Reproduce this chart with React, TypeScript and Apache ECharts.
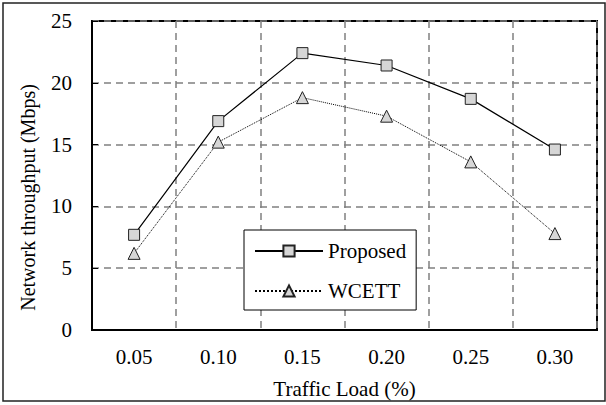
import React, { useEffect, useRef } from "react";
import * as echarts from "echarts";

const categories = ["0.05", "0.10", "0.15", "0.20", "0.25", "0.30"];
const proposed = [7.7, 16.9, 22.4, 21.4, 18.7, 14.6];
const wcett = [6.2, 15.2, 18.8, 17.3, 13.6, 7.8];
const yTicks = { min: 0, max: 25, interval: 5 };

const FONT = "Liberation Serif";

export default function App() {
  const ref = useRef<HTMLDivElement>(null);
  useEffect(() => {
    const chart = echarts.init(ref.current!, null, { renderer: "svg" });
    chart.setOption({
      animation: false,
      backgroundColor: "#fff",
      textStyle: { fontFamily: FONT, color: "#000" },
      grid: {
        left: 92,
        top: 21,
        right: 9,
        bottom: 75,
        show: true,
        borderColor: "#000",
        borderWidth: 2,
        backgroundColor: "transparent",
      },
      graphic: [
        {
          type: "rect",
          shape: { x: 3, y: 3, width: 602, height: 398 },
          style: { fill: "none", stroke: "#222", lineWidth: 1.5 },
          silent: true,
          z: 0,
        },
      ],
      legend: {
        orient: "vertical",
        left: 244,
        top: 230,
        padding: [9, 10, 7, 10],
        itemGap: 16,
        itemWidth: 68,
        itemHeight: 14,
        borderColor: "#000",
        borderWidth: 1,
        backgroundColor: "#fff",
        textStyle: { fontFamily: FONT, fontSize: 21, lineHeight: 24, color: "#000" },
        data: ["Proposed", "WCETT"],
      },
      xAxis: {
        type: "category",
        data: categories,
        boundaryGap: true,
        name: "Traffic Load (%)",
        nameLocation: "middle",
        nameGap: 48,
        nameTextStyle: { fontFamily: FONT, fontSize: 21, color: "#000" },
        axisLine: { lineStyle: { color: "#000", width: 2 } },
        axisTick: { inside: true, length: 6, lineStyle: { color: "#000", width: 1 } },
        axisLabel: { fontFamily: FONT, fontSize: 21, color: "#000", margin: 16 },
        splitLine: { show: true, lineStyle: { color: "#808080", width: 1.5, type: [7, 5] } },
      },
      yAxis: {
        type: "value",
        min: yTicks.min,
        max: yTicks.max,
        interval: yTicks.interval,
        name: "Network throughput (Mbps)",
        nameLocation: "middle",
        nameGap: 54,
        nameTextStyle: { fontFamily: FONT, fontSize: 20, color: "#000", padding: [0, 44, 0, 0] },
        axisLine: { show: true, lineStyle: { color: "#000", width: 2 } },
        axisTick: { show: true, inside: true, length: 6, lineStyle: { color: "#000", width: 1 } },
        axisLabel: { fontFamily: FONT, fontSize: 21, color: "#000", margin: 20 },
        splitLine: { show: true, lineStyle: { color: "#808080", width: 1.5, type: [7, 5] } },
      },
      series: [
        {
          name: "Proposed",
          type: "line",
          data: proposed,
          symbol: "rect",
          symbolSize: 11,
          lineStyle: { color: "#000", width: 1.2, type: "solid" },
          itemStyle: { color: "#d6d6d6", borderColor: "#222", borderWidth: 1 },
          z: 3,
        },
        {
          name: "WCETT",
          type: "line",
          data: wcett,
          symbol: "triangle",
          symbolSize: 12,
          lineStyle: { color: "#000", width: 1, type: "dotted" },
          itemStyle: { color: "#d6d6d6", borderColor: "#222", borderWidth: 1 },
          z: 3,
        },
      ],
    });
    return () => chart.dispose();
  }, []);
  return <div ref={ref} style={{ width: 606, height: 405, position: "absolute", left: 0, top: 0 }} />;
}
